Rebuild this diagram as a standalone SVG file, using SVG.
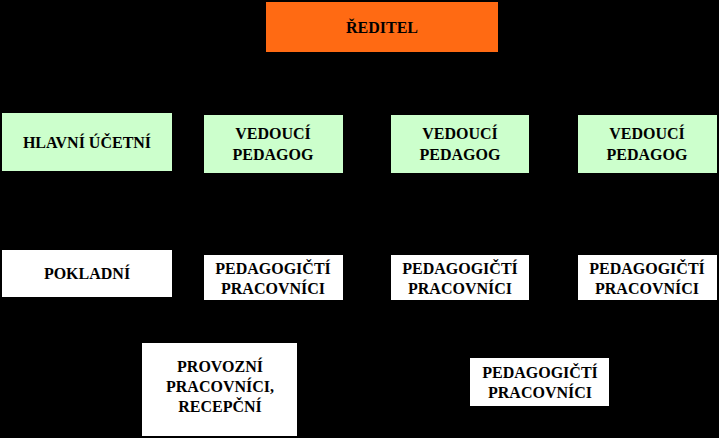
<svg xmlns="http://www.w3.org/2000/svg" width="719" height="438" viewBox="0 0 719 438">
<style>
text{font-family:"Liberation Serif",serif;font-weight:bold;font-size:16px;fill:#000;text-anchor:middle}
.g{fill:#ccffcc}.w{fill:#fff}.o{fill:#ff6a13}
</style>
<rect width="719" height="438" fill="#000"/>
<g id="connectors"></g>
<g id="reditel"><rect class="o" x="266" y="2" width="232" height="50"/><text x="382" y="33" font-size="19">ŘEDITEL</text></g>
<g id="hlavni"><rect class="g" x="2" y="113" width="170" height="58"/><text x="87" y="148">HLAVNÍ ÚČETNÍ</text></g>
<g id="ved1"><rect class="g" x="204" y="115" width="139" height="58"/><text x="273" y="139">VEDOUCÍ</text><text x="273" y="160">PEDAGOG</text></g>
<g id="ved2"><rect class="g" x="391" y="115" width="138" height="58"/><text x="460" y="139">VEDOUCÍ</text><text x="460" y="160">PEDAGOG</text></g>
<g id="ved3"><rect class="g" x="578" y="115" width="139" height="58"/><text x="647" y="139">VEDOUCÍ</text><text x="647" y="160">PEDAGOG</text></g>
<g id="pokladni"><rect class="w" x="2" y="250" width="170" height="47"/><text x="87" y="279">POKLADNÍ</text></g>
<g id="ped1"><rect class="w" x="204" y="255" width="139" height="45"/><text x="273" y="274">PEDAGOGIČTÍ</text><text x="273" y="294">PRACOVNÍCI</text></g>
<g id="ped2"><rect class="w" x="391" y="255" width="138" height="45"/><text x="460" y="274">PEDAGOGIČTÍ</text><text x="460" y="294">PRACOVNÍCI</text></g>
<g id="ped3"><rect class="w" x="578" y="255" width="139" height="45"/><text x="647" y="274">PEDAGOGIČTÍ</text><text x="647" y="294">PRACOVNÍCI</text></g>
<g id="provozni"><rect class="w" x="142" y="343" width="155" height="93"/><text x="220" y="372">PROVOZNÍ</text><text x="220" y="392">PRACOVNÍCI,</text><text x="220" y="412">RECEPČNÍ</text></g>
<g id="ped4"><rect class="w" x="470" y="358" width="139" height="48"/><text x="540" y="378">PEDAGOGIČTÍ</text><text x="540" y="398">PRACOVNÍCI</text></g>
</svg>
